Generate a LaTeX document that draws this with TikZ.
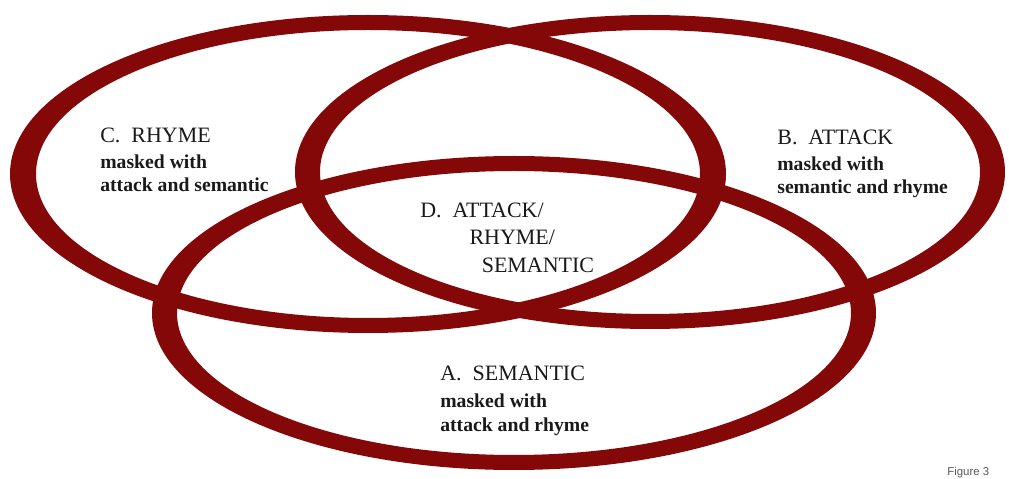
\documentclass[tikz,border=0pt]{standalone}
\usepackage{fontspec}
\setmainfont{Liberation Serif}
\newfontfamily\figfont{Liberation Sans}
\usetikzlibrary{positioning}
\definecolor{ringred}{RGB}{133,8,8}
\newcommand{\headtxt}[1]{{\mdseries\fontsize{12.5}{14}\selectfont #1}}

\begin{document}
\begin{tikzpicture}[x=0.02cm, y=-0.02cm,
    ring/.style={fill=ringred, even odd rule},
    lbl/.style={anchor=north west, inner sep=0pt, align=left, text=black!90,
                font=\fontsize{11.2}{13.4}\selectfont\bfseries}]
    \useasboundingbox (0,0) rectangle (1009,479);

    % the three rings: C (left), B (right), A (bottom)
    \fill[ring] (368,174) ellipse [x radius=358, y radius=159]
                (368,174) ellipse [x radius=332, y radius=144];
    \fill[ring] (650,172) ellipse [x radius=355, y radius=157]
                (650,172) ellipse [x radius=330, y radius=142];
    \fill[ring] (514,313) ellipse [x radius=362, y radius=157]
                (514,313) ellipse [x radius=337, y radius=142];

    \node[lbl] (rhyme) at (100,128) {\headtxt{C.\ \ RHYME}\\[1pt]masked with\\attack and semantic};
    \node[lbl] (attack) at (777,130) {\headtxt{B.\ \ ATTACK}\\[1pt]masked with\\semantic and rhyme};
    \node[lbl] (all) at (420,203) {\headtxt{D.\ \ ATTACK/}\\[2pt]\headtxt{\hspace*{28pt}RHYME/}\\[2pt]\headtxt{\hspace*{35pt}SEMANTIC}};
    \node[lbl] (semantic) at (440,366) {\headtxt{A.\ \ SEMANTIC}\\[2pt]masked with\\attack and rhyme};

    \node[anchor=base west, inner sep=0pt, text=black!65, font=\figfont\fontsize{6.5}{7}\selectfont] (fig) at (947,476) {Figure 3};
\end{tikzpicture}
\end{document}
